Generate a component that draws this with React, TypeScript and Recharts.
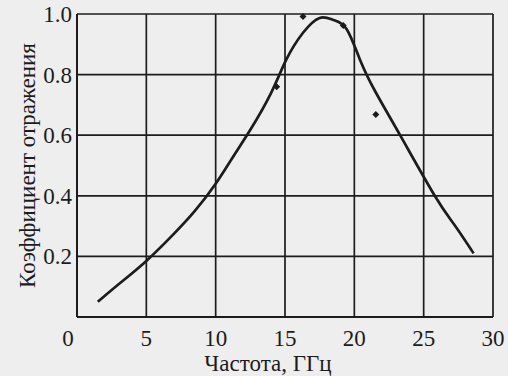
import { ComposedChart, Line, Scatter, XAxis, YAxis, CartesianGrid } from "recharts";

// расчётная кривая
const curveFreq = [1.5, 3, 5, 7, 8.5, 10, 11.2, 12.5, 14, 15.1, 16.3, 17.5, 18.5, 19.45, 20.4, 21.5, 23.3, 25.8, 27.2, 28.6];
const curveVal = [0.05, 0.108, 0.185, 0.275, 0.35, 0.44, 0.525, 0.618, 0.74, 0.85, 0.938, 0.987, 0.98, 0.95, 0.85, 0.745, 0.6, 0.4, 0.305, 0.21];

// эксперимент
const measFreq = [14.4, 16.3, 19.2, 21.55];
const measVal = [0.76, 0.992, 0.962, 0.668];

const xTicks = [0, 5, 10, 15, 20, 25, 30];
const yTicks = [0.2, 0.4, 0.6, 0.8, 1.0];

const INK = "#1c1c1c";
const FONT = '"Liberation Serif", "Times New Roman", serif';
const textStyle = { fontFamily: FONT, fill: INK };

const curve = curveFreq.map((f, i) => ({ f, v: curveVal[i] }));
const points = measFreq.map((f, i) => ({ f, v: measVal[i] }));

function Diamond(props: any) {
  const { cx, cy } = props;
  const r = 3.5;
  return (
    <polygon
      points={`${cx},${cy - r} ${cx + r},${cy} ${cx},${cy + r} ${cx - r},${cy}`}
      fill={INK}
    />
  );
}

function XTick({ x, y, payload }: any) {
  const dx = payload.value === 0 ? -9 : 0;
  return (
    <text x={x + dx} y={y} dy="0.71em" textAnchor="middle" style={textStyle} fontSize={23}>
      {payload.value}
    </text>
  );
}

function YTick({ x, y, payload }: any) {
  return (
    <text x={x} y={y} dy="0.35em" textAnchor="end" style={textStyle} fontSize={23}>
      {payload.value.toFixed(1)}
    </text>
  );
}

export default function App() {
  return (
    <div
      style={{
        position: "absolute",
        top: 0,
        left: 0,
        width: 508,
        height: 376,
        background: "#eeeeee",
        fontFamily: FONT,
      }}
    >
      <ComposedChart
        width={508}
        height={376}
        margin={{ top: 14, right: 15, bottom: 0, left: 0 }}
        style={{ fontFamily: FONT }}
      >
        <CartesianGrid stroke={INK} strokeWidth={1.7} />
        <XAxis
          type="number"
          dataKey="f"
          domain={[0, 30]}
          ticks={xTicks}
          height={59}
          tickSize={0}
          tickMargin={13}
          axisLine={{ stroke: INK, strokeWidth: 2 }}
          tick={<XTick />}
          label={{
            content: ({ viewBox }: any) => (
              <text
                x={viewBox.x + viewBox.width / 2 - 17}
                y={viewBox.y + 54}
                textAnchor="middle"
                style={textStyle}
                fontSize={23}
              >
                Частота, ГГц
              </text>
            ),
          }}
        />
        <YAxis
          type="number"
          dataKey="v"
          domain={[0, 1]}
          ticks={yTicks}
          width={77}
          tickSize={0}
          tickMargin={5}
          axisLine={{ stroke: INK, strokeWidth: 2 }}
          tick={<YTick />}
          label={{
            content: ({ viewBox }: any) => {
              const cx = viewBox.x + 27;
              const cy = viewBox.y + viewBox.height / 2;
              return (
                <text
                  x={cx}
                  y={cy}
                  transform={`rotate(-90 ${cx} ${cy})`}
                  textAnchor="middle"
                  dominantBaseline="central"
                  style={textStyle}
                  fontSize={23}
                >
                  Коэффициент отражения
                </text>
              );
            },
          }}
        />
        <Line
          data={curve}
          dataKey="v"
          type="natural"
          stroke={INK}
          strokeWidth={2.7}
          dot={false}
          activeDot={false}
          isAnimationActive={false}
        />
        <Scatter data={points} dataKey="v" shape={<Diamond />} isAnimationActive={false} />
      </ComposedChart>
    </div>
  );
}
